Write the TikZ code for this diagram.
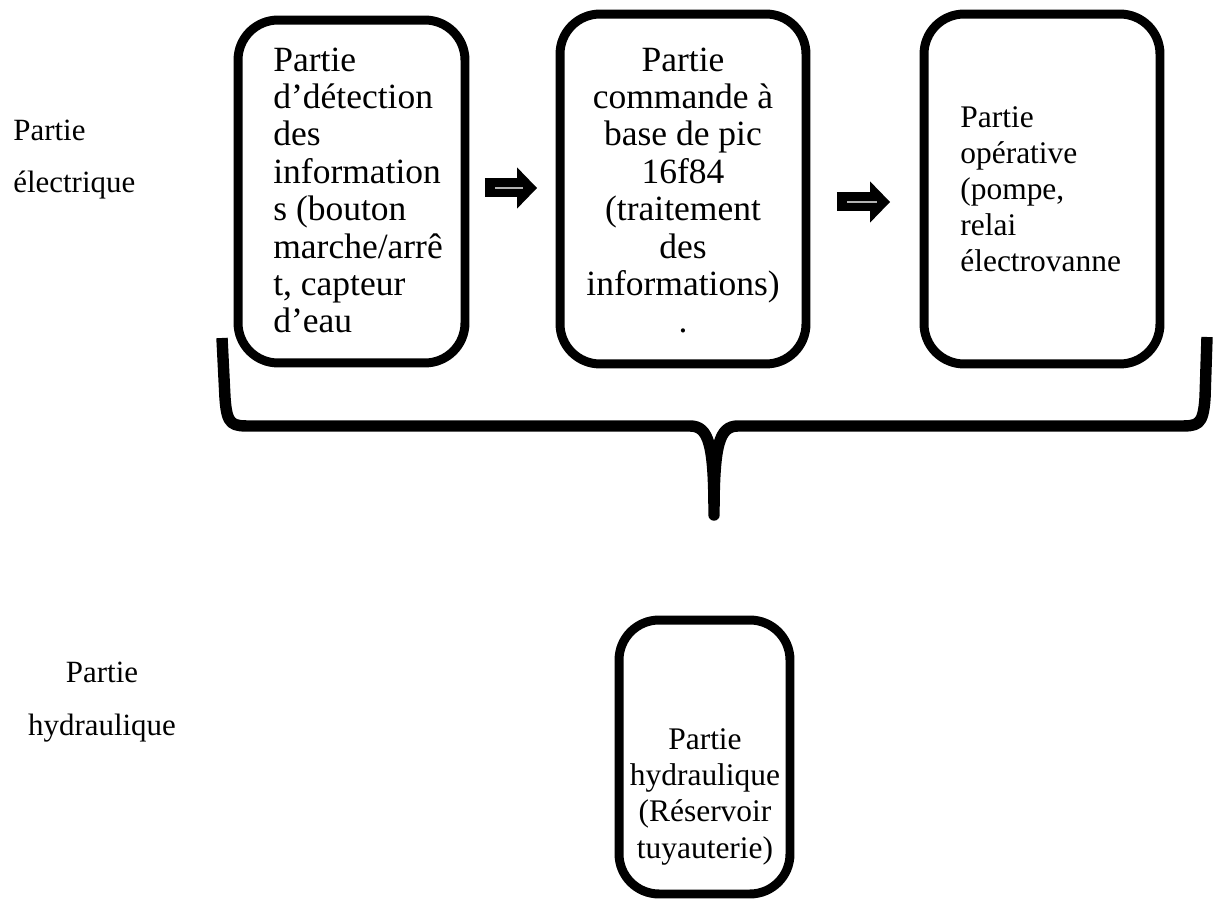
\documentclass[tikz,border=0pt]{standalone}
\usepackage{fontspec}
\setmainfont{Liberation Serif}
\usetikzlibrary{arrows.meta}
\setlength{\lineskiplimit}{-20pt}

\tikzset{
  partbox/.style={draw, line width=5.1pt, rounded corners=0.8cm, inner sep=0pt},
  bigtext/.style={font={\fontsize{20.2pt}{21.3pt}\selectfont}, inner sep=0pt},
  smalltext/.style={font={\fontsize{17.9pt}{20.6pt}\selectfont}, inner sep=0pt},
  sidetext/.style={font={\fontsize{17.6pt}{30pt}\selectfont}, inner sep=0pt},
  fatarrow/.style={line width=0.38cm, -{Triangle[length=0.4cm,width=0.8cm]}},
  arrowcore/.style={gray!60, line width=0.7pt},
}

\begin{document}
\begin{tikzpicture}[x=0.02cm, y=-0.02cm]
\useasboundingbox (0,0) rectangle (1213,905);

% les blocs
\node[partbox, minimum width=4.54cm, minimum height=6.86cm] (b1) at (351.5,191.5) {};
\node[partbox, minimum width=4.92cm, minimum height=7cm] (b2) at (683,189) {};
\node[partbox, minimum width=4.72cm, minimum height=7cm] (b3) at (1042,189) {};
\node[partbox, minimum width=3.42cm, minimum height=5.48cm] (b4) at (704.5,757) {};

% textes des blocs (ancre sur la derniere ligne)
\node[bigtext, align=left, anchor=base west] (t1) at (273,333)
  {Partie\\d’détection\\des\\information\\s (bouton\\marche/arrê\\t, capteur\\d’eau};
\node[bigtext, align=center, anchor=base] (t2) at (683,333)
  {Partie\\commande à\\base de pic\\16f84\\(traitement\\des\\informations)\\.};
\node[smalltext, align=left, anchor=base west] (t3) at (960,272)
  {Partie\\opérative\\(pompe,\\relai\\électrovanne};
\node[smalltext, align=center, anchor=base] (t4) at (705,858)
  {Partie\\hydraulique\\(Réservoir\\tuyauterie)};

% titres a gauche
\node[sidetext, align=left, anchor=base west] (elec) at (13,193) {Partie\\électrique};
\node[sidetext, align=center, anchor=base] (hydr) at (102,735) {Partie\\hydraulique};

% fleches
\draw[fatarrow, shorten <=0.31cm, shorten >=0.37cm]
  ([yshift=0.07cm]b1.east) -- ([yshift=0.07cm]b1.east -| b2.west);
\draw[arrowcore, shorten <=0.51cm, shorten >=0.65cm]
  ([yshift=0.07cm]b1.east) -- ([yshift=0.07cm]b1.east -| b2.west);
\draw[fatarrow, shorten <=0.53cm, shorten >=0.59cm]
  ([yshift=-0.26cm]b2.east) -- ([yshift=-0.26cm]b2.east -| b3.west);
\draw[arrowcore, shorten <=0.73cm, shorten >=0.85cm]
  ([yshift=-0.26cm]b2.east) -- ([yshift=-0.26cm]b2.east -| b3.west);

% accolade
\draw[line width=6.5pt, line join=round] (222,338) -- (225,398)
  .. controls (227,426) and (232,426) .. (252,426) -- (690,426)
  .. controls (709,426) and (714,445) .. (714,515)
  .. controls (714,445) and (719,426) .. (738,426) -- (1178,426)
  .. controls (1198,426) and (1203,426) .. (1205,398) -- (1207,337);
\end{tikzpicture}
\end{document}
